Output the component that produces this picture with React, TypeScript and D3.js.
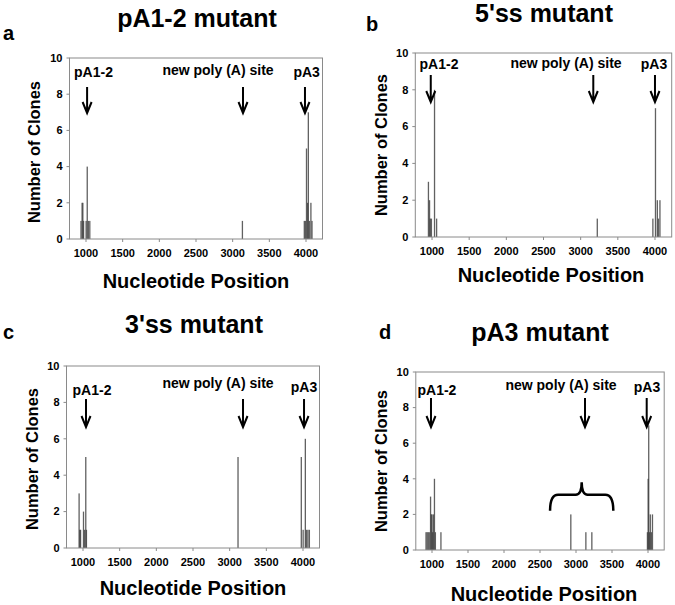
import React from 'react';
import * as d3 from 'd3';

// ---- data ----
const PANEL_TITLES = ['pA1-2 mutant', "5'ss mutant", "3'ss mutant", 'pA3 mutant'];
const PANEL_LETTERS = ['a', 'b', 'c', 'd'];
const X_TICKS = [1000, 1500, 2000, 2500, 3000, 3500, 4000];
const Y_TICKS = [0, 2, 4, 6, 8, 10];
const X_DOMAIN = [775, 4225];
const Y_DOMAIN = [0, 10];
const X_TITLE = 'Nucleotide Position';
const Y_TITLE = 'Number of Clones';
const SITE_LABELS = ['pA1-2', 'new poly (A) site', 'pA3'];

const A_POS = [930, 945, 955, 965, 1000, 1015, 1030, 1050, 3131, 3975, 3990, 4005, 4020, 4030, 4045, 4065, 4080];
const A_CLONES = [1, 2, 2, 1, 1, 4, 1, 1, 1, 1, 1, 5, 2, 7, 1, 2, 1];
const B_POS = [950, 965, 975, 990, 1032, 1060, 3222, 3970, 4005, 4030, 4045, 4065];
const B_CLONES = [3, 2, 1, 1, 8, 1, 1, 1, 7, 2, 1, 2];
const C_POS = [945, 955, 965, 1005, 1020, 1036, 1045, 3112, 3975, 4000, 4030, 4045, 4065, 4085];
const C_CLONES = [3, 1, 1, 2, 1, 5, 1, 5, 5, 1, 6, 1, 1, 1];
const D_POS = [915, 930, 945, 960, 978, 988, 998, 1008, 1018, 1032, 1045, 1122, 2926, 3135, 3218, 3990, 4000, 4008, 4020, 4030, 4045, 4060];
const D_CLONES = [1, 1, 1, 1, 3, 2, 2, 1, 2, 4, 1, 1, 2, 1, 1, 1, 4, 7, 1, 2, 1, 2];

const ARROW_X = [
  [1015, 3141, 3986],
  [983, 3170, 4000],
  [1041, 3182, 4014],
  [986, 3125, 3982],
];
const LABEL_X = [
  [1102, 2800, 4009],
  [1094, 2803, 3987],
  [1123, 2841, 4014],
  [1069, 2792, 3986],
];
// brace over the new sites in panel d: x (left, centre, right), y (ends, bar, peak)
const BRACE_X = [2640, 3079, 3518];
const BRACE_Y = [2.2, 3.1, 3.8];

const SERIES = [
  { pos: A_POS, val: A_CLONES },
  { pos: B_POS, val: B_CLONES },
  { pos: C_POS, val: C_CLONES },
  { pos: D_POS, val: D_CLONES },
];

// ---- layout ----
const LAYOUT = [
  { box: [69.5, 58, 322.5, 239], title: [197, 27], letter: [3, 40], xt: [196, 288], yt: [34, 152], lab: [77, 75, 77], arr: [87, 113] },
  { box: [415.3, 53, 671.7, 237], title: [544, 22], letter: [366, 31], xt: [551, 282], yt: [381, 145], lab: [69, 68, 69], arr: [75, 102] },
  { box: [66.5, 366, 319.5, 548], title: [194, 333], letter: [3, 339], xt: [193, 595], yt: [32, 459], lab: [395, 388, 392], arr: [399, 427] },
  { box: [415.8, 372, 664.2, 550], title: [540, 341], letter: [379, 339], xt: [544, 601], yt: [381, 461], lab: [395, 390, 392], arr: [398, 427] },
];

const FONT = "'Liberation Sans', Arial, sans-serif";
const BAR_HALF = 7;

function Panel({ i }: { i: number }) {
  const L = LAYOUT[i];
  const [x0, y0, x1, y1] = L.box;
  const x = d3.scaleLinear().domain(X_DOMAIN).range([x0, x1]);
  const y = d3.scaleLinear().domain(Y_DOMAIN).range([y1, y0]);
  const s = SERIES[i];
  const frame = '#8a8a8a';

  let brace: string | null = null;
  if (i === 3) {
    const [bl, bc, br] = BRACE_X.map((v) => x(v));
    const [ye, yb, yp] = BRACE_Y.map((v) => y(v));
    const p = d3.path();
    p.moveTo(bl, ye);
    p.quadraticCurveTo(bl, yb, bl + 8, yb);
    p.lineTo(bc - 6, yb);
    p.quadraticCurveTo(bc, yb, bc, yp);
    p.quadraticCurveTo(bc, yb, bc + 6, yb);
    p.lineTo(br - 8, yb);
    p.quadraticCurveTo(br, yb, br, ye);
    brace = p.toString();
  }

  return (
    <g>
      <text x={L.title[0]} y={L.title[1]} textAnchor="middle" fontFamily={FONT} fontWeight="bold" fontSize={25}>
        {PANEL_TITLES[i]}
      </text>
      <text x={L.letter[0]} y={L.letter[1]} fontFamily={FONT} fontWeight="bold" fontSize={20}>
        {PANEL_LETTERS[i]}
      </text>
      {/* bars */}
      {s.pos.map((p, k) => {
        const left = x(p - BAR_HALF);
        const w = Math.max(1.3, x(p + BAR_HALF) - left);
        return (
          <rect key={k} x={left} y={y(s.val[k])} width={w} height={y(0) - y(s.val[k])} fill="#3a3a3a" fillOpacity={0.8} />
        );
      })}
      {/* frame */}
      <rect x={x0} y={y0} width={x1 - x0} height={y1 - y0} fill="none" stroke={frame} strokeWidth={1} />
      {Y_TICKS.map((t) => (
        <g key={'y' + t}>
          <line x1={x0 - 3} x2={x0} y1={y(t)} y2={y(t)} stroke={frame} />
          <text x={x0 - 7} y={y(t)} dy="0.35em" textAnchor="end" fontFamily={FONT} fontWeight="bold" fontSize={11}>
            {t}
          </text>
        </g>
      ))}
      {X_TICKS.map((t) => (
        <g key={'x' + t}>
          <line x1={x(t)} x2={x(t)} y1={y1} y2={y1 + 3} stroke={frame} />
          <text x={x(t)} y={y1 + 18} textAnchor="middle" fontFamily={FONT} fontWeight="bold" fontSize={11}>
            {t}
          </text>
        </g>
      ))}
      <text x={L.xt[0]} y={L.xt[1]} textAnchor="middle" fontFamily={FONT} fontWeight="bold" fontSize={20}>
        {X_TITLE}
      </text>
      <text
        transform={`translate(${L.yt[0]},${L.yt[1]}) rotate(-90)`}
        textAnchor="middle"
        dy="0.35em"
        fontFamily={FONT}
        fontWeight="bold"
        fontSize={16.5}
      >
        {Y_TITLE}
      </text>
      {/* site annotations */}
      {SITE_LABELS.map((lab, k) => {
        const ax = x(ARROW_X[i][k]);
        const top = L.arr[0];
        const bot = L.arr[1];
        return (
          <g key={'s' + k}>
            <text x={x(LABEL_X[i][k])} y={L.lab[k]} textAnchor="middle" fontFamily={FONT} fontWeight="bold" fontSize={14}>
              {lab}
            </text>
            <path
              d={`M${ax},${top}L${ax},${bot}M${ax - 4.5},${bot - 11}L${ax},${bot}L${ax + 4.5},${bot - 11}`}
              fill="none"
              stroke="#000"
              strokeWidth={2}
            />
          </g>
        );
      })}
      {brace && <path d={brace} fill="none" stroke="#000" strokeWidth={2.5} />}
    </g>
  );
}

export default function App() {
  return (
    <svg width={675} height={605} style={{ position: 'absolute', left: 0, top: 0, background: '#fff' }}>
      <rect width={675} height={605} fill="#fff" />
      {[0, 1, 2, 3].map((i) => (
        <Panel key={i} i={i} />
      ))}
    </svg>
  );
}
